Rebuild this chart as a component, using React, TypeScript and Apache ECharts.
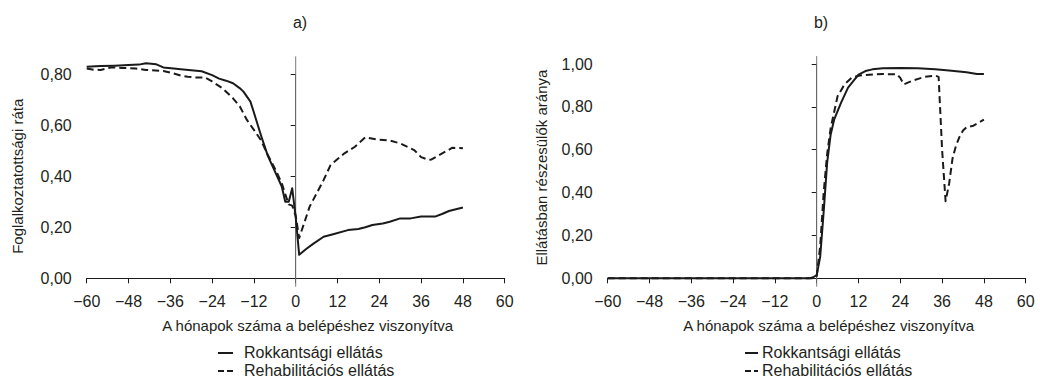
import React, { useEffect, useRef } from "react";
import * as echarts from "echarts";

const FONT = '"Liberation Sans", Arial, sans-serif';
const TEXT = "#231f20";
const INK = "#1a1a1a";

const panelTitles = ["a)", "b)"];
const seriesNames = ["Rokkantsági ellátás", "Rehabilitációs ellátás"];
const xAxisName = "A hónapok száma a belépéshez viszonyítva";
const yAxisNames = ["Foglalkoztatottsági ráta", "Ellátásban részesülők aránya"];
const xMin = -60;
const xMax = 60;
const xStep = 12;
const yMaxA = 0.8;
const yMaxB = 1.0;
const yStep = 0.2;

// Panel a) — employment rate
const aSolidMonths = [-60, -56, -52, -48, -45, -43, -40, -38, -35, -33, -30, -27, -24, -22, -20, -18, -16, -15, -13, -12, -10, -8, -6, -4, -3, -2, -1, 0, 1, 3, 5, 8, 11, 15, 18, 20, 22, 25, 27, 30, 33, 36, 40, 42, 44, 48];
const aSolidValues = [0.83, 0.833, 0.834, 0.836, 0.838, 0.843, 0.839, 0.827, 0.823, 0.82, 0.816, 0.812, 0.797, 0.783, 0.775, 0.765, 0.745, 0.732, 0.693, 0.65, 0.562, 0.48, 0.42, 0.36, 0.3, 0.3, 0.353, 0.24, 0.092, 0.115, 0.135, 0.163, 0.174, 0.189, 0.193, 0.2, 0.209, 0.215, 0.222, 0.235, 0.235, 0.242, 0.242, 0.252, 0.264, 0.278];
const aDashMonths = [-60, -58, -56, -53, -50, -46, -43, -38, -35, -33, -31, -29, -26, -24, -21, -18, -16, -14, -12, -10, -8, -6, -4, -3, -2, -1, 0, 1, 4, 8, 10, 14, 17, 20, 23, 27, 30, 34, 36, 38, 39, 41, 45, 48];
const aDashValues = [0.823, 0.818, 0.817, 0.827, 0.825, 0.823, 0.817, 0.813, 0.803, 0.795, 0.79, 0.788, 0.787, 0.772, 0.745, 0.706, 0.673, 0.621, 0.582, 0.542, 0.484, 0.431, 0.373, 0.33, 0.29, 0.285, 0.245, 0.158, 0.281, 0.385, 0.444, 0.49, 0.516, 0.553, 0.545, 0.54, 0.529, 0.503, 0.475, 0.465, 0.466, 0.482, 0.512, 0.51];

// Panel b) — share receiving benefit
const bSolidMonths = [-60, -2, -1, 0, 1, 2, 3, 4, 5, 7, 9, 12, 14, 16, 19, 24, 29, 34, 38, 43, 46, 48];
const bSolidValues = [0, 0, 0.005, 0.015, 0.1, 0.31, 0.54, 0.67, 0.74, 0.82, 0.89, 0.95, 0.967, 0.975, 0.98, 0.981, 0.98, 0.976, 0.97, 0.961, 0.953, 0.953];
const bDashMonths = [-60, -1, 0, 1, 2, 3, 4, 6, 8, 10, 12, 14, 19, 23, 24, 25, 26, 28, 31, 34, 35, 36, 37, 38, 39, 40, 41, 42, 43, 45, 48];
const bDashValues = [0, 0, 0.01, 0.15, 0.4, 0.58, 0.7, 0.85, 0.905, 0.935, 0.945, 0.949, 0.953, 0.952, 0.935, 0.905, 0.912, 0.925, 0.94, 0.946, 0.94, 0.6, 0.36, 0.44, 0.56, 0.62, 0.66, 0.69, 0.705, 0.712, 0.74];

// vertical reference line at month 0 (bottom, top in data units)
const refLineA = [-0.033, 0.87];
const refLineB = [-0.039, 1.037];

const zip = (xs: number[], ys: number[]) => xs.map((x, i) => [x, ys[i]]);

const fmtX = (v: number) => (v < 0 ? "\u2212" + Math.abs(v) : String(v));
const fmtY = (v: number) => v.toFixed(2).replace(".", ",");

const DASH = [7, 4];

function makeX(gridIndex: number) {
  return {
    gridIndex,
    type: "value",
    min: xMin,
    max: xMax,
    interval: xStep,
    offset: 8,
    axisLine: { show: true, lineStyle: { color: INK, width: 1 } },
    axisTick: { show: true, length: 5, lineStyle: { color: INK, width: 1 } },
    axisLabel: { margin: 7, fontSize: 16, color: TEXT, fontFamily: FONT, formatter: fmtX },
    splitLine: { show: false },
    name: xAxisName,
    nameLocation: "middle",
    nameGap: 32,
    nameTextStyle: { fontSize: 15, color: TEXT, fontFamily: FONT, padding: [0, 0, 0, 24] },
  };
}

function makeY(gridIndex: number, max: number, name: string, gap: number, pad: number[]) {
  return {
    gridIndex,
    type: "value",
    min: 0,
    max,
    interval: yStep,
    offset: 8,
    axisLine: { show: true, lineStyle: { color: INK, width: 1 } },
    axisTick: { show: true, length: 5, lineStyle: { color: INK, width: 1 } },
    axisLabel: { margin: 7, fontSize: 16, color: TEXT, fontFamily: FONT, formatter: fmtY },
    splitLine: { show: false },
    name,
    nameLocation: "middle",
    nameRotate: 90,
    nameGap: gap,
    nameTextStyle: { fontSize: 15, color: TEXT, fontFamily: FONT, padding: pad },
  };
}

function lineSeries(name: string, idx: number, data: number[][], dashed: boolean) {
  return {
    type: "line",
    name,
    xAxisIndex: idx,
    yAxisIndex: idx,
    data,
    symbol: "none",
    clip: false,
    z: 3,
    lineStyle: { color: INK, width: 2, type: dashed ? DASH : "solid", join: "round" },
    itemStyle: { color: INK },
  };
}

function refSeries(idx: number, ref: number[]) {
  return {
    type: "line",
    xAxisIndex: idx,
    yAxisIndex: idx,
    data: [[0, ref[0]], [0, ref[1]]],
    symbol: "none",
    clip: false,
    silent: true,
    z: 1,
    lineStyle: { color: "#7a7a7a", width: 1 },
  };
}

function legendGraphic(iconLeft: number, iconRight: number, textLeft: number) {
  const rows = [352, 370];
  const out: any[] = [];
  seriesNames.forEach((name, i) => {
    const y = rows[i];
    out.push({
      type: "line",
      shape: { x1: iconLeft, y1: y + 1, x2: iconRight, y2: y + 1 },
      style: { stroke: INK, lineWidth: 2, lineDash: i === 1 ? [6, 3] : null },
    });
    out.push({
      type: "text",
      x: textLeft,
      y,
      style: { text: name, textAlign: "left", textVerticalAlign: "middle", fontSize: 16, fontFamily: FONT, fill: TEXT },
    });
  });
  return out;
}

export default function App() {
  const ref = useRef<HTMLDivElement>(null);
  useEffect(() => {
    if (!ref.current) return;
    const chart = echarts.init(ref.current, undefined, { renderer: "svg" });
    chart.setOption({
      animation: false,
      backgroundColor: "#ffffff",
      textStyle: { fontFamily: FONT },
      grid: [
        { left: 86.7, top: 74.3, width: 418, height: 204 },
        { left: 607.7, top: 64, width: 418, height: 214.3 },
      ],
      xAxis: [makeX(0), makeX(1)],
      yAxis: [
        makeY(0, yMaxA, yAxisNames[0], 53.5, [0, 0, 0, 0]),
        makeY(1, yMaxB, yAxisNames[1], 50.5, [0, 0, 0, 7]),
      ],
      graphic: [
        { type: "text", x: 300, y: 22, style: { text: panelTitles[0], textAlign: "center", textVerticalAlign: "middle", fontSize: 16, fontFamily: FONT, fill: TEXT } },
        { type: "text", x: 821, y: 22, style: { text: panelTitles[1], textAlign: "center", textVerticalAlign: "middle", fontSize: 16, fontFamily: FONT, fill: TEXT } },
        ...legendGraphic(218, 233, 244),
        ...legendGraphic(745, 758, 762),
      ],
      series: [
        refSeries(0, refLineA),
        refSeries(1, refLineB),
        lineSeries(seriesNames[0], 0, zip(aSolidMonths, aSolidValues), false),
        lineSeries(seriesNames[1], 0, zip(aDashMonths, aDashValues), true),
        lineSeries(seriesNames[0], 1, zip(bSolidMonths, bSolidValues), false),
        lineSeries(seriesNames[1], 1, zip(bDashMonths, bDashValues), true),
      ],
    });
    return () => chart.dispose();
  }, []);
  return <div ref={ref} style={{ position: "fixed", left: 0, top: 0, width: 1040, height: 380 }} />;
}
